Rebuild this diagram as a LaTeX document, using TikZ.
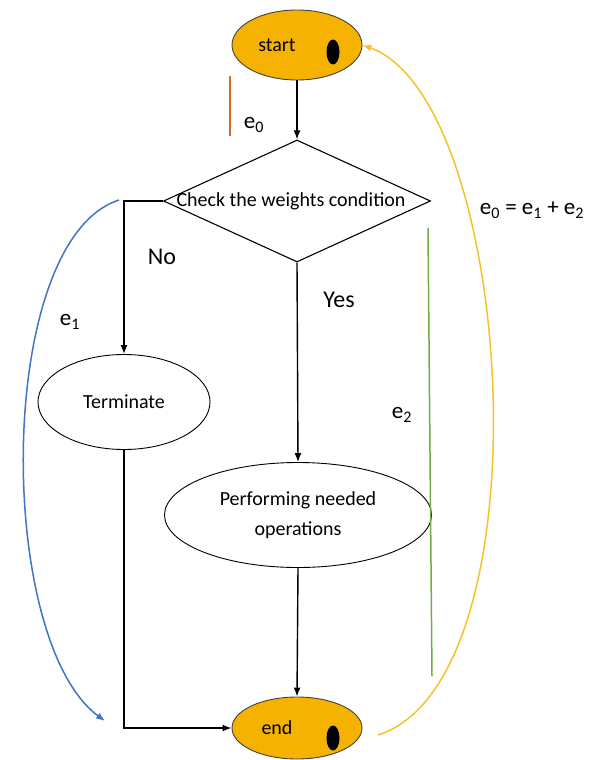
\documentclass[tikz,border=0pt]{standalone}
\usepackage{fontspec}
\setmainfont{Carlito}
\usetikzlibrary{positioning,arrows.meta,shapes.geometric}
\definecolor{termfill}{RGB}{245,178,0}
\definecolor{loopgold}{RGB}{250,192,40}
\definecolor{pathblue}{RGB}{68,114,196}
\definecolor{pathgreen}{RGB}{112,173,71}
\definecolor{markorange}{RGB}{210,110,40}

\begin{document}
\begin{tikzpicture}[
  x=1pt,y=-1pt,
  >={Latex[length=9pt,width=7pt]},
  every node/.style={font=\fontsize{20}{24}\selectfont},
  flow/.style={->,line width=1.4pt},
  terminal/.style={ellipse,draw=black!75,line width=0.9pt,fill=termfill,
    minimum width=130pt,minimum height=70pt,inner sep=0pt},
  process/.style={ellipse,draw,line width=0.9pt,inner sep=0pt,align=center},
  branch/.style={font=\fontsize{24}{28}\selectfont},
  edgelabel/.style={font=\fontsize{23}{27}\selectfont},
  eline/.style={line width=1.5pt}
]
\useasboundingbox (0,0) rectangle (596,760);

% 端点
\node[terminal,label={[xshift=-20pt]center:start}] (start) at (297,45) {};
\fill (333,52) ellipse (6.5 and 12.5);
\node[terminal,minimum height=62pt,label={[xshift=-20pt]center:end}] (end) at (297,728) {};
\fill (333,738) ellipse (6.5 and 12.5);

% 判定
\node[diamond,draw,line width=1.1pt,minimum width=267pt,minimum height=122pt,
  inner sep=0pt,label={[xshift=-6pt]center:Check the weights condition}]
  (check) at (297,201) {};

% 処理
\node[process,minimum width=172pt,minimum height=95pt] (term) at (124,402) {Terminate};
\node[process,minimum width=267pt,minimum height=105pt] (perf) at (298,515)
  {Performing needed\\[6pt]operations};

% 流れ
\draw[flow] (start) -- (check);
\draw[flow] (check.west) -| (term.north);
\draw[flow] (check.south) -- (perf.north);
\draw[flow] (perf.south) -- (end.north);
\draw[flow] (term.south) |- (end.west);

\node[branch] (no) at (162,257) {No};
\node[branch] (yes) at (339,300) {Yes};

% 経路の印
\coordinate (e0top) at (230,76);
\coordinate (e0bot) at (230,136);
\draw[eline,markorange] (e0top) -- (e0bot);
\node[edgelabel] (e0) at (254,125) {e\textsubscript{0}};

\coordinate (e1from) at (119,200);
\coordinate (e1to) at (105,721);
\draw[->,eline,pathblue] (e1from) .. controls (-5,240) and (-5,640) .. (e1to);
\node[edgelabel] (e1) at (70,322) {e\textsubscript{1}};

\coordinate (e2top) at (428,228);
\coordinate (e2bot) at (432,676);
\draw[eline,pathgreen] (e2top) -- (e2bot);
\node[edgelabel] (e2) at (402,415) {e\textsubscript{2}};

\coordinate (e0from) at (378,735);
\draw[->,eline,loopgold] (e0from) .. controls (550,680) and (515,100) .. (start.east);
\node[edgelabel] (sum) at (532,210) {e\textsubscript{0} = e\textsubscript{1} + e\textsubscript{2}};
\end{tikzpicture}
\end{document}
